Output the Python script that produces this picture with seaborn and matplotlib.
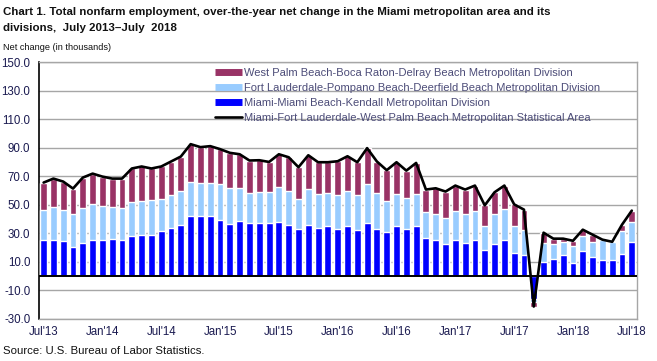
import numpy as np
import pandas as pd
import matplotlib
matplotlib.use("Agg")
import matplotlib.pyplot as plt
import seaborn as sns
from matplotlib.lines import Line2D

months = pd.date_range("2013-07-01", "2018-07-01", freq="MS").strftime("%b'%y").tolist()

# over-the-year net change, thousands
miami = [25.4, 25.4, 24.6, 20.4, 23.2, 25.4, 25.4, 26.1, 25.4, 28.2, 28.9, 28.9, 31.7,
         33.8, 35.9, 42.3, 42.3, 42.3, 39.4, 36.6, 38.7, 37.3, 37.3, 37.3, 38.0,
         35.9, 33.1, 35.9, 33.8, 35.2, 33.1, 35.2, 32.4, 37.3, 33.1, 31.0, 35.2,
         33.1, 35.2, 26.8, 25.4, 22.5, 25.4, 23.2, 25.4, 18.3, 22.5, 25.4, 16.2,
         14.8, -16.2, 9.9, 12.0, 14.8, 9.2, 17.6, 13.4, 11.3, 11.3, 15.5, 23.9]
ftl = [21.1, 23.2, 21.9, 23.3, 24.7, 25.3, 23.9, 22.5, 22.5, 23.9, 23.9, 24.6, 22.5,
       23.2, 24.0, 23.9, 23.2, 23.2, 25.4, 25.4, 23.3, 21.2, 21.9, 21.9, 24.7,
       24.0, 21.1, 25.4, 23.9, 23.3, 23.9, 24.7, 24.6, 27.5, 25.4, 21.8, 22.5,
       21.8, 22.5, 18.3, 18.3, 18.3, 20.4, 20.5, 20.4, 16.9, 21.2, 21.8, 19.0,
       17.6, -2.1, 13.3, 10.5, 9.1, 11.9, 10.6, 10.5, 14.1, 12.6, 16.2, 14.1]
wpb = [19.0, 19.5, 19.7, 17.6, 21.1, 21.1, 20.4, 19.7, 20.4, 23.3, 24.0, 21.9, 22.6,
       23.3, 23.9, 26.3, 24.9, 25.6, 24.2, 24.4, 23.4, 22.5, 22.0, 20.8, 22.7,
       23.4, 22.1, 23.4, 22.1, 21.3, 23.5, 24.1, 22.8, 24.9, 21.8, 21.4, 22.1,
       19.0, 21.6, 15.5, 17.8, 18.4, 17.6, 16.9, 17.6, 14.3, 15.0, 16.2, 15.0,
       14.1, -3.3, 7.1, 3.6, 2.2, 3.5, 4.2, 5.0, 0.0, 0.0, 4.2, 7.8]
msa = [65.5, 68.3, 66.2, 61.3, 69.0, 71.8, 69.7, 68.3, 68.3, 75.4, 76.8, 75.4, 76.8,
       80.3, 83.8, 92.5, 90.4, 91.1, 89.0, 86.4, 85.4, 81.0, 81.2, 80.0, 85.4,
       83.3, 76.3, 84.7, 79.8, 79.8, 80.5, 84.0, 79.8, 89.7, 80.3, 74.2, 79.8,
       73.9, 79.3, 60.6, 61.5, 59.2, 63.4, 60.6, 63.4, 49.5, 58.7, 63.4, 50.2,
       46.5, -21.6, 30.3, 26.1, 26.1, 24.6, 32.4, 28.9, 25.4, 23.9, 35.9, 45.8]

tick_pos = list(range(0, 61, 6))
tick_labels = ["Jul'13", "Jan'14", "Jul'14", "Jan'15", "Jul'15", "Jan'16",
               "Jul'16", "Jan'17", "Jul'17", "Jan'18", "Jul'18"]

c_wpb, c_ftl, c_mia = "#993366", "#99CCFF", "#0000FF"

df = pd.DataFrame({"month": months, "miami": miami, "ftl": ftl, "wpb": wpb, "msa": msa})
df["top_ftl"] = df["miami"] + df["ftl"]
df["top_wpb"] = df["top_ftl"] + df["wpb"]

sns.set_style("white")
plt.rcParams["font.family"] = ["Liberation Sans", "DejaVu Sans"]

fig = plt.figure(figsize=(6.57, 3.61), dpi=100)
ax = fig.add_axes([0.0589, 0.1177, 0.9102, 0.7097])

for col, c in [("top_wpb", c_wpb), ("top_ftl", c_ftl), ("miami", c_mia)]:
    sns.barplot(data=df, x="month", y=col, color=c, saturation=1, width=0.7,
                errorbar=None, ax=ax, zorder=3)
sns.lineplot(x=np.arange(len(months)), y=df["msa"], color="black", lw=1.9,
             ax=ax, zorder=5)

ax.set_ylim(-30, 150)
ax.set_xlim(-0.5, 60.5)
ax.set_yticks(np.arange(-30, 151, 20))
ax.set_yticklabels([f"{v:.1f}" for v in np.arange(-30, 151, 20)])
ax.set_xticks(tick_pos)
ax.set_xticklabels(tick_labels)
ax.set_xlabel("")
ax.set_ylabel("")
ax.tick_params(axis="both", length=0, labelsize=8.3, colors="#1a1a50")
ax.tick_params(axis="y", pad=6)
ax.tick_params(axis="x", pad=5.5)
for v in np.arange(-30, 151, 20):
    ax.axhline(v, color="#a6a6a6", lw=1, zorder=1)
ax.axhline(0, color="black", lw=1.4, zorder=4)
for s in ["top", "right", "bottom"]:
    ax.spines[s].set_color("#a6a6a6")
    ax.spines[s].set_linewidth(1)
ax.spines["left"].set_color("black")
ax.spines["left"].set_linewidth(1.2)

handles = [Line2D([], [], color=c_wpb, lw=5, solid_capstyle="butt"),
           Line2D([], [], color=c_ftl, lw=5, solid_capstyle="butt"),
           Line2D([], [], color=c_mia, lw=5, solid_capstyle="butt"),
           Line2D([], [], color="black", lw=1.9)]
labels = ["West Palm Beach-Boca Raton-Delray Beach Metropolitan Division",
          "Fort Lauderdale-Pompano Beach-Deerfield Beach Metropolitan Division",
          "Miami-Miami Beach-Kendall Metropolitan Division",
          "Miami-Fort Lauderdale-West Palm Beach Metropolitan Statistical Area"]
leg = fig.legend(handles, labels, loc="upper left", bbox_to_anchor=(0.328, 0.812),
                 frameon=False, fontsize=8, handlelength=2.4, handletextpad=0.2,
                 labelspacing=0.45, borderpad=0, borderaxespad=0)
for t in leg.get_texts():
    t.set_color("#4c4c78")

title1 = fig.text(0.005, 1 - 7 / 361,
                  "Chart 1. Total nonfarm employment, over-the-year net change in the Miami metropolitan area and its",
                  fontsize=10, fontweight="bold", va="top", ha="left", color="#111111")
title2 = fig.text(0.005, 1 - 23 / 361, "divisions,  July 2013\u2013July  2018",
                  fontsize=10, fontweight="bold", va="top", ha="left", color="#111111")
sub = fig.text(0.005, 1 - 47 / 361, "Net change (in thousands)", fontsize=8,
               va="center", ha="left", color="#111111")
fig.text(0.005, 1 - 351 / 361, "Source: U.S. Bureau of Labor Statistics.", fontsize=8.2,
         va="center", ha="left", color="#111111")

# the original uses a narrow face; fit to a similar width
fig.canvas.draw()
r = fig.canvas.get_renderer()
w = title1.get_window_extent(r).width
scale = 545 / w
title1.set_fontsize(10 * scale)
title2.set_fontsize(10 * scale)
ws = sub.get_window_extent(r).width
sub.set_fontsize(8 * 108 / ws)

fig.savefig("out.png", dpi=100)
